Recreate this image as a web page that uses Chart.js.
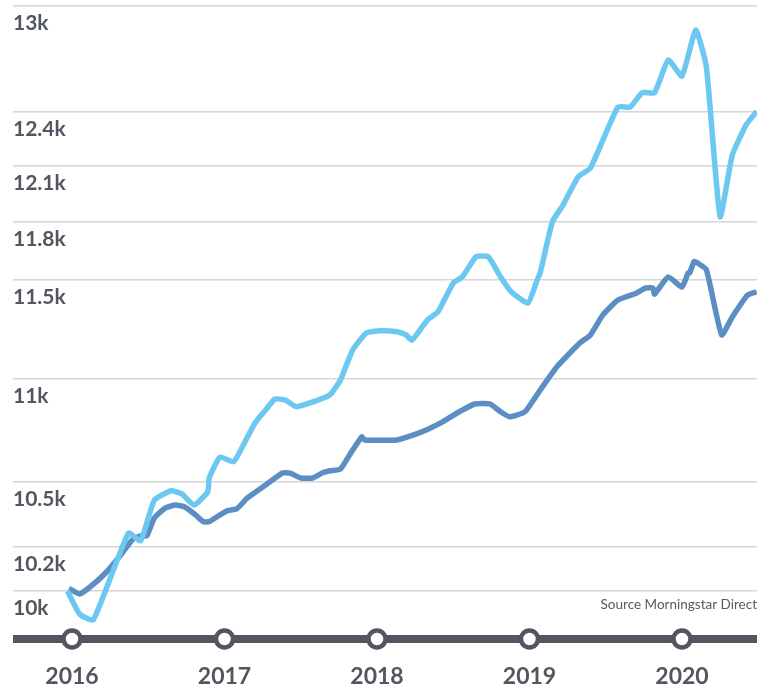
<!DOCTYPE html>
<html>
<head>
<meta charset="utf-8">
<script src="https://cdn.jsdelivr.net/npm/chart.js@4.4.0/dist/chart.umd.min.js"></script>
<style>
  html, body { margin: 0; padding: 0; background: #fff; }
  #wrap { width: 771px; height: 687px; position: relative; }
</style>
</head>
<body>
<div id="wrap"><canvas id="myChart"></canvas></div>
<script>
// y軸の目盛り（対数スケール）
const tickValues = [10000, 10200, 10500, 11000, 11500, 11800, 12100, 12400, 13000];
const tickLabels = ["10k", "10.2k", "10.5k", "11k", "11.5k", "11.8k", "12.1k", "12.4k", "13k"];
const yearTicks = [2016, 2017, 2018, 2019, 2020];

// 水色の線
const lightYears = [2015.97, 2016.05, 2016.14, 2016.37, 2016.45, 2016.54, 2016.65, 2016.72, 2016.80, 2016.89,
  2016.90, 2016.97, 2017.06, 2017.13, 2017.20, 2017.27, 2017.33, 2017.40, 2017.47, 2017.56,
  2017.69, 2017.76, 2017.84, 2017.93, 2018.02, 2018.13, 2018.19, 2018.23, 2018.33, 2018.40,
  2018.50, 2018.56, 2018.65, 2018.73, 2018.81, 2018.88, 2018.99, 2019.05, 2019.07, 2019.15,
  2019.22, 2019.32, 2019.40, 2019.58, 2019.66, 2019.74, 2019.82, 2019.91, 2020.00, 2020.09,
  2020.16, 2020.25, 2020.33, 2020.42, 2020.49];
const lightValues = [10000, 9897, 9871, 10263, 10228, 10416, 10460, 10445, 10393, 10455,
  10520, 10619, 10597, 10686, 10783, 10846, 10899, 10894, 10862, 10880,
  10919, 10992, 11141, 11227, 11238, 11233, 11217, 11191, 11292, 11334,
  11481, 11513, 11617, 11617, 11513, 11436, 11379, 11497, 11533, 11801,
  11890, 12042, 12089, 12424, 12424, 12504, 12504, 12689, 12598, 12861,
  12651, 11828, 12159, 12324, 12400];

// 紺色の線
const darkYears = [2015.98, 2016.05, 2016.12, 2016.22, 2016.31, 2016.40, 2016.45, 2016.49, 2016.54, 2016.61,
  2016.68, 2016.74, 2016.81, 2016.86, 2016.90, 2016.97, 2017.02, 2017.08, 2017.15, 2017.27,
  2017.38, 2017.43, 2017.50, 2017.58, 2017.64, 2017.69, 2017.76, 2017.82, 2017.90, 2017.92,
  2018.13, 2018.24, 2018.33, 2018.43, 2018.54, 2018.64, 2018.74, 2018.81, 2018.87, 2018.97,
  2019.07, 2019.18, 2019.33, 2019.40, 2019.48, 2019.58, 2019.70, 2019.76, 2019.81, 2019.82,
  2019.91, 2020.00, 2020.04, 2020.05, 2020.08, 2020.10, 2020.16, 2020.26, 2020.33, 2020.43,
  2020.49];
const darkValues = [10012, 9987, 10019, 10081, 10155, 10236, 10250, 10250, 10333, 10379,
  10393, 10384, 10347, 10316, 10316, 10347, 10367, 10375, 10426, 10487,
  10543, 10543, 10520, 10520, 10543, 10554, 10562, 10629, 10715, 10701,
  10701, 10725, 10751, 10788, 10837, 10875, 10875, 10837, 10813, 10837,
  10943, 11058, 11176, 11217, 11317, 11394, 11429, 11455, 11455, 11424,
  11513, 11460, 11533, 11533, 11593, 11586, 11550, 11217, 11308, 11419,
  11436];

const axisColor = "#52565f";
const fontFamily = 'Lato, "Liberation Sans", sans-serif';

function toPoints(xs, ys) {
  return xs.map((x, i) => ({ x: x, y: ys[i] }));
}

// 下の太い軸線と年の丸、出典
const axisPlugin = {
  id: "axisPlugin",
  afterDraw(chart) {
    const c = chart.ctx;
    const area = chart.chartArea;
    const xs = chart.scales.x;
    c.save();
    c.strokeStyle = axisColor;
    c.lineWidth = 8;
    c.beginPath();
    c.moveTo(area.left, area.bottom);
    c.lineTo(area.right, area.bottom);
    c.stroke();
    yearTicks.forEach((yr) => {
      const px = xs.getPixelForValue(yr);
      c.beginPath();
      c.arc(px, area.bottom, 8.5, 0, Math.PI * 2);
      c.fillStyle = "#fff";
      c.fill();
      c.lineWidth = 4.5;
      c.stroke();
    });
    c.fillStyle = "#555a63";
    c.font = "13.5px " + fontFamily;
    c.textAlign = "right";
    c.textBaseline = "middle";
    c.fillText("Source Morningstar Direct", area.right, 605);
    c.restore();
  },
};

const ctx = document.getElementById("myChart").getContext("2d");
const myChart = new Chart(ctx, {
  type: "line",
  data: {
    datasets: [
      {
        label: "light",
        data: toPoints(lightYears, lightValues),
        borderColor: "#6cc8f0",
        borderWidth: 5.5,
        pointRadius: 0,
        tension: 0.15,
        borderJoinStyle: "round",
      },
      {
        label: "dark",
        data: toPoints(darkYears, darkValues),
        borderColor: "#5b8ec3",
        borderWidth: 5.5,
        pointRadius: 0,
        tension: 0.15,
        borderJoinStyle: "round",
      },
    ],
  },
  options: {
    responsive: true,
    maintainAspectRatio: false,
    animation: false,
    layout: { padding: { left: 13, right: 14, top: 6, bottom: 0 } },
    plugins: { legend: { display: false }, tooltip: { enabled: false } },
    scales: {
      x: {
        type: "linear",
        min: 2015.613,
        max: 2020.492,
        grid: { display: false },
        border: { display: false },
        afterBuildTicks: (s) => {
          s.ticks = yearTicks.map((v) => ({ value: v }));
        },
        afterFit: (s) => {
          s.height = 48;
          s.paddingLeft = 0;
          s.paddingRight = 0;
        },
        ticks: {
          autoSkip: false,
          maxRotation: 0,
          padding: 16,
          color: axisColor,
          font: { family: fontFamily, size: 23, weight: "bold" },
          callback: (v) => String(v),
        },
      },
      y: {
        type: "logarithmic",
        min: 9787,
        max: 13000,
        grid: { color: "#d6d6d6", lineWidth: 1.5, drawTicks: false },
        border: { display: false },
        afterBuildTicks: (s) => {
          s.ticks = tickValues.map((v) => ({ value: v }));
        },
        afterFit: (s) => {
          s.width = 0;
          s.paddingTop = 0;
          s.paddingBottom = 0;
        },
        ticks: {
          autoSkip: false,
          mirror: true,
          padding: 0,
          labelOffset: 17.5,
          crossAlign: "near",
          color: axisColor,
          font: { family: fontFamily, size: 21, weight: "bold" },
          callback: (v) => tickLabels[tickValues.indexOf(v)],
        },
      },
    },
  },
  plugins: [axisPlugin],
});
</script>
</body>
</html>
